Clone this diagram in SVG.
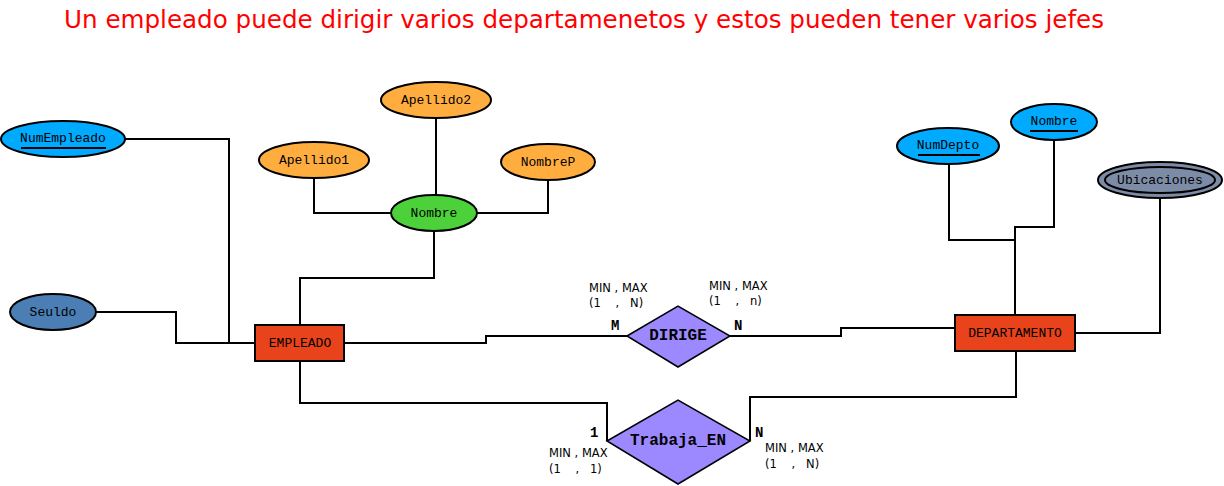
<svg xmlns="http://www.w3.org/2000/svg" width="1224" height="486" viewBox="0 0 1224 486">
<style>
.title{font-family:"DejaVu Sans","Liberation Sans",sans-serif;font-size:24px;fill:#ff0000}
.ell{stroke:#000;stroke-width:2}
.blue{fill:#00aaff}
.orange{fill:#ffad3f}
.green{fill:#4cd13a}
.steel{fill:#4a7eb5}
.gray{fill:#7d8ca6}
.ent{fill:#e8431a;stroke:#000;stroke-width:2}
.rel{fill:#9c88ff;stroke:#000;stroke-width:1.5}
.t{font-family:"Liberation Mono","Courier New",monospace;font-size:13px;fill:#000;text-anchor:middle;dominant-baseline:central}
.tb{font-family:"Liberation Mono","Courier New",monospace;font-size:16px;font-weight:bold;fill:#000;text-anchor:middle;dominant-baseline:central}
.card{font-family:"Liberation Mono","Courier New",monospace;font-size:14px;font-weight:bold;fill:#000}
.mm{font-family:"DejaVu Sans","Liberation Sans",sans-serif;font-size:11.5px;fill:#000}
.ul{stroke:#000;stroke-width:2}
.c{fill:none;stroke:#000;stroke-width:2}
</style>
<text class="title" x="64" y="28" textLength="1040" lengthAdjust="spacingAndGlyphs">Un empleado puede dirigir varios departamenetos y estos pueden tener varios jefes</text>
<g id="connectors">
<polyline class="c" points="125,139 229,139 229,343 255,343"/>
<polyline class="c" points="96,312 176,312 176,343 255,343"/>
<polyline class="c" points="434,231 434,278 300,278 300,325"/>
<polyline class="c" points="314,178 314,213 391,213"/>
<polyline class="c" points="436,118 436,195"/>
<polyline class="c" points="548,180 548,213 477,213"/>
<polyline class="c" points="344,343 486,343 486,336 627,336"/>
<polyline class="c" points="730,336 841,336 841,328 955,328"/>
<polyline class="c" points="949,164 949,240 1015,240"/>
<polyline class="c" points="1054,140 1054,227 1015,227 1015,315"/>
<polyline class="c" points="1160,198 1160,333 1075,333"/>
<polyline class="c" points="300,361 300,403 607,403 607,441"/>
<polyline class="c" points="750,441 750,397 1016,397 1016,351"/>
</g>
<g id="NumEmpleado"><ellipse class="ell blue" cx="63" cy="139" rx="62" ry="18"/><text class="t" x="63" y="138">NumEmpleado</text><line class="ul" x1="21" y1="148" x2="106" y2="148"/></g>
<g id="Seuldo"><ellipse class="ell steel" cx="53" cy="312" rx="43" ry="18"/><text class="t" x="53" y="312">Seuldo</text></g>
<g id="Apellido2"><ellipse class="ell orange" cx="436" cy="100" rx="55" ry="18"/><text class="t" x="436" y="100">Apellido2</text></g>
<g id="Apellido1"><ellipse class="ell orange" cx="314" cy="160" rx="55" ry="18"/><text class="t" x="314" y="160">Apellido1</text></g>
<g id="NombreP"><ellipse class="ell orange" cx="548" cy="162" rx="47" ry="18"/><text class="t" x="548" y="162">NombreP</text></g>
<g id="Nombre"><ellipse class="ell green" cx="434" cy="213" rx="43" ry="18"/><text class="t" x="434" y="213">Nombre</text></g>
<g id="EMPLEADO"><rect class="ent" x="255" y="325" width="89" height="36"/><text class="t" x="300" y="343">EMPLEADO</text></g>
<g id="NumDepto"><ellipse class="ell blue" cx="948" cy="146" rx="51" ry="18"/><text class="t" x="948" y="145">NumDepto</text><line class="ul" x1="918" y1="155" x2="980" y2="155"/></g>
<g id="NombreDepto"><ellipse class="ell blue" cx="1054" cy="122" rx="43" ry="18"/><text class="t" x="1054" y="121">Nombre</text><line class="ul" x1="1030" y1="131" x2="1078" y2="131"/></g>
<g id="Ubicaciones"><ellipse class="ell gray" cx="1160" cy="180" rx="62" ry="18"/><ellipse fill="none" stroke="#000" stroke-width="2" cx="1160" cy="180" rx="55" ry="13"/><text class="t" x="1160" y="180">Ubicaciones</text></g>
<g id="DEPARTAMENTO"><rect class="ent" x="955" y="315" width="120" height="36"/><text class="t" x="1015" y="333">DEPARTAMENTO</text></g>
<g id="DIRIGE"><polygon class="rel" points="627,336 678,306 730,336 678,367"/><text class="tb" x="678" y="336">DIRIGE</text>
<text class="mm" x="589" y="292">MIN , MAX</text><text class="mm" x="589" y="307" xml:space="preserve">(1    ,   N)</text>
<text class="mm" x="709" y="290">MIN , MAX</text><text class="mm" x="709" y="305" xml:space="preserve">(1    ,   n)</text>
<text class="card" x="611" y="330">M</text><text class="card" x="734" y="330">N</text></g>
<g id="Trabaja_EN"><polygon class="rel" points="607,441 678,400 750,441 678,484"/><text class="tb" x="678" y="441">Trabaja_EN</text>
<text class="card" x="590" y="437">1</text><text class="card" x="755" y="437">N</text>
<text class="mm" x="549" y="457">MIN , MAX</text><text class="mm" x="549" y="473" xml:space="preserve">(1    ,   1)</text>
<text class="mm" x="765" y="452">MIN , MAX</text><text class="mm" x="765" y="468" xml:space="preserve">(1    ,   N)</text></g>
</svg>
